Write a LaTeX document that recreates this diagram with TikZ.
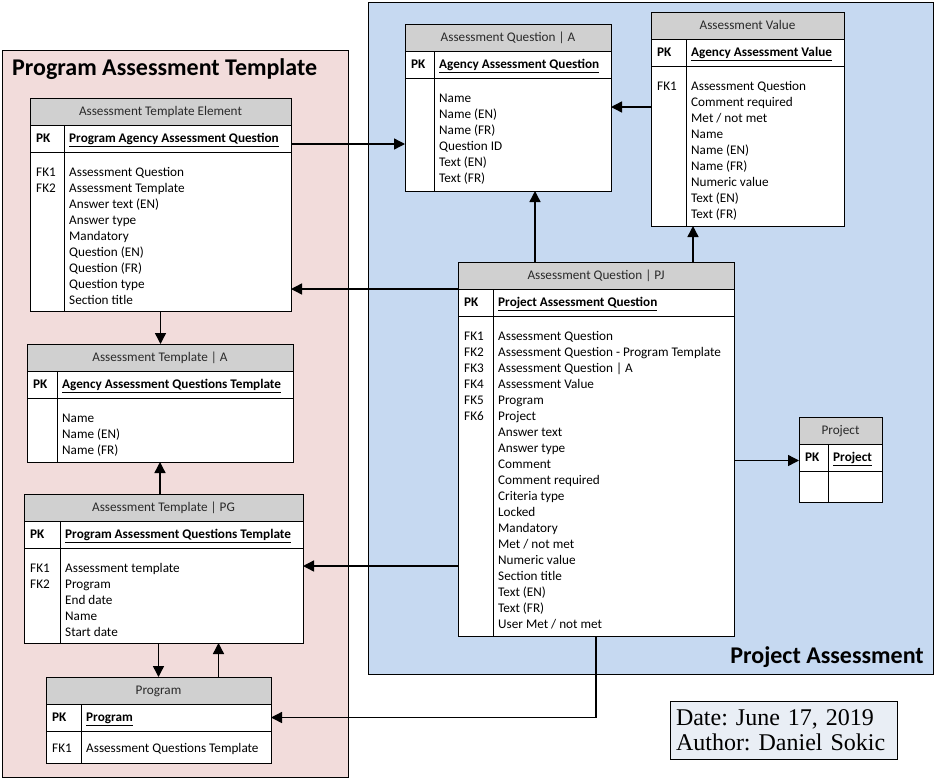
\documentclass[tikz,border=0pt]{standalone}
\usepackage{fontspec}
\setmainfont{Carlito}
\newfontfamily\notefont{Liberation Serif}
\usepackage{xcolor}
\usepackage{tikz}
\usetikzlibrary{arrows.meta}
\usetikzlibrary{positioning}
\frenchspacing

\definecolor{hdrgray}{HTML}{D0D0D0}
\definecolor{hdrtext}{HTML}{2A2A2A}
\definecolor{pgpink}{HTML}{F2DCDB}
\definecolor{pjblue}{HTML}{C6D9F1}
\definecolor{notebg}{HTML}{E9EEF5}

\tikzset{
  erhead/.style={draw, line width=0.8pt, fill=hdrgray, text=hdrtext, minimum height=27,
    inner sep=0, outer sep=0, text height=8.5, text depth=0, font=\fontsize{13.2}{16}\selectfont},
  errow/.style={draw, line width=0.8pt, fill=white, inner sep=0, outer sep=0},
  erline/.style={line width=0.8pt},
  erkey/.style={inner sep=0, font=\fontsize{13.2}{16}\selectfont\bfseries},
  ertext/.style={inner sep=0, align=left, font=\fontsize{13.2}{16}\selectfont},
  fk/.style={line width=1.4pt, -{Triangle[length=11pt,width=11pt]}},
  region/.style={draw, line width=0.8pt},
  regiontitle/.style={inner sep=0, font=\fontsize{24}{28}\selectfont\bfseries},
  notebox/.style={draw, line width=0.8pt, fill=notebg, align=left, inner xsep=6, inner ysep=0,
    text width=215, minimum height=58, outer sep=0, font=\notefont\fontsize{24}{25}\selectfont}
}

% one entity table: name, position, width, key column, body height, title, key, fk list, fields
\def\firstgap{12.8}
\newcommand{\ertable}[9]{%
  \node[erhead, minimum width=#3, anchor=north west] (#1h) at #2 {#6};
  \node[errow, minimum width=#3, minimum height=27, anchor=north west] (#1k) at (#1h.south west) {};
  \node[errow, minimum width=#3, minimum height=#5, anchor=north west] (#1b) at (#1k.south west) {};
  \draw[erline] ([xshift=#4]#1k.north west) -- ([xshift=#4]#1b.south west);
  \node[erkey, anchor=base west] (#1pk) at ([xshift=6,yshift=-4]#1k.west) {PK};
  \node[erkey, anchor=base west] (#1pn) at ([xshift=#4+5,yshift=-4]#1k.west) {\underline{#7}};
  \node[ertext, anchor=north west] (#1fk) at ([xshift=6,yshift=-\firstgap]#1b.north west) {\strut#8};
  \node[ertext, anchor=north west] (#1fl) at ([xshift=#4+5,yshift=-\firstgap]#1b.north west) {\strut#9};
}

\begin{document}
\begin{tikzpicture}[x=1pt, y=-1pt]
        \useasboundingbox (0,0) rectangle (935,780);

        % the two areas
        \draw[region, fill=pgpink] (2,50) rectangle (348,777);
        \draw[region, fill=pjblue] (368,2) rectangle (933,674);
        \node[regiontitle, anchor=base west] (pgtitle) at (12,75) {Program Assessment Template};
        \node[regiontitle, anchor=base east] (pjtitle) at (924,663) {Project Assessment};

        % program side
        \ertable{elem}{(30,98)}{261}{34}{159}{Assessment Template Element}{Program Agency Assessment Question}
          {FK1\\FK2}{Assessment Question\\Assessment Template\\Answer text (EN)\\Answer type\\Mandatory\\Question (EN)\\Question (FR)\\Question type\\Section title}
        \ertable{ata}{(27,344)}{266}{30}{64}{Assessment Template | A}{Agency Assessment Questions Template}
          {}{Name\\Name (EN)\\Name (FR)}
        \ertable{pg}{(24,494)}{279}{36}{95}{Assessment Template | PG}{Program Assessment Questions Template}
          {FK1\\FK2}{Assessment template\\Program\\End date\\Name\\Start date}
        \def\firstgap{10}
        \ertable{prog}{(46,677)}{225}{35}{32}{Program}{Program}
          {FK1}{Assessment Questions Template}
        \def\firstgap{12.8}

        % project side
        \ertable{aqa}{(405,24)}{206}{29}{113}{Assessment Question | A}{Agency Assessment Question}
          {}{Name\\Name (EN)\\Name (FR)\\Question ID\\Text (EN)\\Text (FR)}
        \ertable{av}{(651,12)}{193}{35}{160}{Assessment Value}{Agency Assessment Value}
          {FK1}{Assessment Question\\Comment required\\Met / not met\\Name\\Name (EN)\\Name (FR)\\Numeric value\\Text (EN)\\Text (FR)}
        \ertable{pj}{(458,262)}{276}{35}{320}{Assessment Question | PJ}{Project Assessment Question}
          {FK1\\FK2\\FK3\\FK4\\FK5\\FK6}{Assessment Question\\Assessment Question - Program Template\\Assessment Question | A\\Assessment Value\\Program\\Project\\Answer text\\Answer type\\Comment\\Comment required\\Criteria type\\Locked\\Mandatory\\Met / not met\\Numeric value\\Section title\\Text (EN)\\Text (FR)\\User Met / not met}
        \ertable{proj}{(799,417)}{83}{29}{31}{Project}{Project}{}{}

        % references
        \draw[fk] ([yshift=-5.5]elemk.east) -- ([yshift=-5.5]aqab.west |- elemk.east);
        \draw[fk] (pjh.south west) -- (elemb.east |- pjh.south west);
        \draw[fk] (elemb.south) -- (elemb.south |- atah.north);
        \draw[fk] (atab.south |- pgh.north) -- (atab.south);
        \draw[fk] ([yshift=-18]pjb.west |- pgb.north east) -- ([yshift=-18]pgb.north east);
        \draw[fk] (progh.north |- pgb.south) -- (progh.north);
        \draw[fk] ([xshift=60]progh.north) -- ([xshift=60]progh.north |- pgb.south);
        \draw[fk] (pjb.south) |- (progk.east);
        \draw[fk] ([xshift=27]aqab.south |- pjh.north) -- ([xshift=27]aqab.south);
        \draw[fk] ([xshift=-41]pjh.north east) -- ([xshift=-41]pjh.north east |- avb.south);
        \draw[fk] ([yshift=-29]avb.west |- aqab.north east) -- ([yshift=-29]aqab.north east);
        \draw[fk] ([yshift=-3]pjb.east |- projk.west) -- ([yshift=-3]projk.west);

        % note
        \node[notebox, anchor=north west] (note) at (670,701) {Date: June 17, 2019\\Author: Daniel Sokic};
\end{tikzpicture}
\end{document}
